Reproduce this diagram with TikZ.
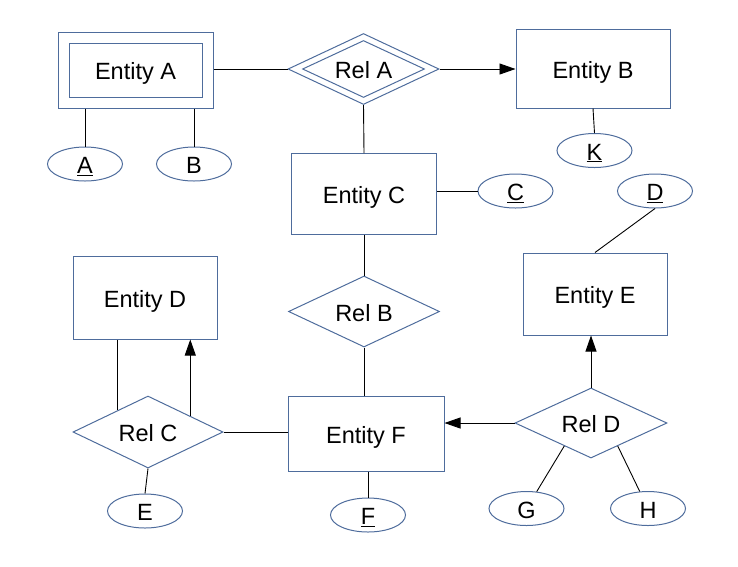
\documentclass[tikz,border=0pt]{standalone}
\usepackage{fontspec}
\setmainfont{Liberation Sans}
\usetikzlibrary{shapes.geometric,arrows.meta,calc}
\definecolor{erblue}{RGB}{78,108,156}

\begin{document}
\begin{tikzpicture}[x=1pt, y=-1pt,
    font=\fontsize{23.5}{27}\selectfont,
    every node/.style ={text height=19pt, text depth=0pt},
    entity/.style ={rectangle, draw=erblue, line width=1pt, inner sep=0pt, minimum width=145pt, minimum height=81pt},
    relation/.style ={diamond, aspect=2, draw=erblue, line width=1pt, inner sep=0pt, minimum width=151pt, minimum height=71pt},
    attrib/.style ={ellipse, draw=erblue, line width=1pt, inner sep=0pt, minimum width=75pt, minimum height=34pt},
    link/.style ={draw=black, line width=0.9pt},
    tip/.style ={link, -{Triangle[length=16pt, width=11pt]}}]
   \useasboundingbox (0,0) rectangle (738,566);

   \node[entity, minimum width=155pt, minimum height=76pt] (EntA) at (135.5,70)  {};
   \node[entity, minimum width=133pt, minimum height=54pt] (EntAin) at (135.5,70)  {Entity A};
   \node[relation] (RelA) at (363.5,69)  {};
   \node[relation, minimum width=122pt, minimum height=57pt] (RelAin) at (363.5,69)  {Rel A};
   \node[entity, minimum width=154pt, minimum height=79pt] (EntB) at (593,68.5)  {Entity B};
   \node[entity] (EntC) at (364,194)  {Entity C};
   \node[relation] (RelB) at (364,311.5)  {Rel B};
   \node[entity, minimum width=144pt, minimum height=83pt] (EntD) at (145,297.5)  {Entity D};
   \node[entity, minimum width=144pt, minimum height=82pt] (EntE) at (595,294)  {Entity E};
   \node[entity, minimum width=156pt, minimum height=75pt] (EntF) at (366,433.5)  {Entity F};
   \node[relation, minimum width=150pt, minimum height=72pt] (RelC) at (148,432)  {Rel C};
   \node[relation, minimum width=152pt, minimum height=70pt] (RelD) at (591,423)  {Rel D};

   \node[attrib] (A) at (85,164)  {\underline{A}};
   \node[attrib] (B) at (194,164)  {B};
   \node[attrib] (K) at (594.5,150.5)  {\underline{K}};
   \node[attrib] (C) at (515.5,191)  {\underline{C}};
   \node[attrib] (D) at (655,191)  {\underline{D}};
   \node[attrib] (E) at (145,511)  {E};
   \node[attrib] (F) at (368,515)  {\underline{F}};
   \node[attrib] (G) at (526.5,508.5)  {G};
   \node[attrib] (H) at (648,508.5)  {H};

   \coordinate (RelCleft) at ($(RelC.west)!0.6!(RelC.north)$);
   \coordinate (RelCright) at ($(RelC.north)!0.56!(RelC.east)$);
   \coordinate (RelDleft) at ($(RelD.west)!0.65!(RelD.south)$);
   \coordinate (RelDright) at ($(RelD.south)!0.35!(RelD.east)$);

   % relationships
   \draw[link] (EntA.east |- RelA.west) to (RelA.west);
   \draw[tip] (RelA.east) to (EntB.west |- RelA.east);
   \draw[link] (RelA.south) to (EntC.north);
   \draw[link] (EntC.south) to (RelB.north);
   \draw[link] (RelB.south) to (RelB.south |- EntF.north);
   \draw[link] (RelC.east) to (EntF.west |- RelC.east);
   \draw[tip] (RelD.west) to (EntF.east |- RelD.west);
   \draw[tip] (RelD.north) to (RelD.north |- EntE.south);
   \draw[link] (RelCleft) to (RelCleft |- EntD.south);
   \draw[tip] (RelCright) to (RelCright |- EntD.south);

   % attributes
   \draw[link] (A.north |- EntA.south) to (A.north);
   \draw[link] (B.north |- EntA.south) to (B.north);
   \draw[link] (EntB.south) to (K.north);
   \draw[link] (EntC.east |- C.west) to (C.west);
   \draw[link] (D.south) to (EntE.north);
   \draw[link] (RelC.south) to (E.north);
   \draw[link] (F.north |- EntF.south) to (F.north);
   \draw[link] (RelDleft) to (G);
   \draw[link] (RelDright) to (H);

 \end{tikzpicture}
\end{document}
